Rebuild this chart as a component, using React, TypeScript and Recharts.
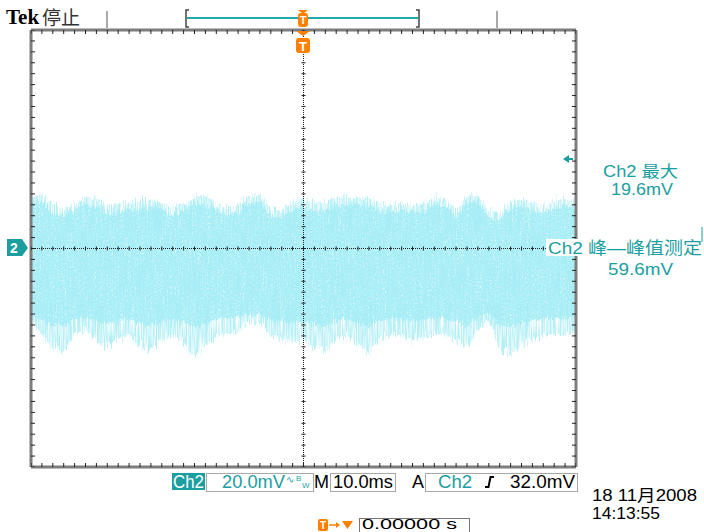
import React from 'react';
import { ComposedChart, Area, Scatter, XAxis, YAxis, CartesianGrid, ReferenceLine } from 'recharts';

// time base: 10 ms/div, 10 divisions, sampled every 2 ms (0.2 div)
const TIME_MS = [
  -50, -48, -46, -44, -42, -40, -38, -36, -34, -32, -30, -28, -26, -24, -22, -20, -18, -16, -14, -12,
  -10, -8, -6, -4, -2, 0, 2, 4, 6, 8, 10, 12, 14, 16, 18, 20, 22, 24, 26, 28, 30, 32, 34, 36, 38, 40,
  42, 44, 46, 48, 50,
];

// Ch2 envelope, mV (20 mV/div)
const UPPER_PEAK_MV = [
  19.5, 19.6, 16.1, 14.3, 16.5, 18.7, 18.4, 15.0, 16.1, 16.9, 17.2, 17.6, 16.5, 15.0, 16.1, 19.1, 19.1,
  16.5, 15.0, 15.8, 19.5, 19.6, 14.3, 13.6, 16.9, 18.0, 16.5, 16.9, 18.7, 18.7, 18.7, 18.4, 16.5, 16.1,
  16.1, 16.1, 16.5, 18.7, 18.0, 13.9, 19.5, 19.6, 14.3, 12.8, 17.2, 18.0, 16.5, 15.4, 17.2, 18.0, 17.2,
];
const UPPER_CORE_MV = [
  16.8, 17.0, 13.5, 11.8, 13.9, 16.0, 15.6, 12.4, 13.2, 14.1, 14.6, 15.0, 13.8, 12.3, 13.5, 16.4, 16.2,
  13.9, 12.5, 13.1, 16.7, 17.0, 11.6, 11.0, 14.2, 15.3, 13.9, 14.3, 16.1, 15.9, 16.0, 15.7, 13.8, 13.4,
  13.6, 13.3, 13.9, 16.0, 15.2, 11.2, 16.8, 17.1, 11.7, 10.3, 14.5, 15.4, 13.8, 12.7, 14.6, 15.3, 14.5,
];
const LOWER_CORE_MV = [
  -24.0, -26.5, -28.0, -28.4, -25.8, -25.2, -26.8, -27.6, -26.3, -25.9, -27.2, -28.1, -26.6, -25.7,
  -26.9, -28.9, -27.5, -25.8, -25.4, -25.0, -23.8, -24.2, -25.9, -26.7, -27.3, -26.6, -27.9, -28.5,
  -26.4, -25.9, -27.2, -28.6, -26.3, -25.7, -25.9, -26.6, -26.2, -25.4, -25.8, -26.7, -27.9, -24.9,
  -23.4, -27.8, -28.8, -27.3, -26.3, -25.9, -25.5, -25.8, -25.1,
];
const LOWER_PEAK_MV = [
  -26.1, -31.6, -36.3, -37.8, -30.8, -29.7, -33.4, -35.6, -32.7, -31.9, -35.2, -37.1, -33.4, -31.9,
  -34.1, -40.0, -35.6, -31.9, -31.2, -30.5, -26.8, -27.5, -31.9, -33.4, -34.9, -33.4, -36.3, -37.8,
  -32.7, -31.9, -35.2, -38.9, -32.7, -31.6, -31.9, -33.4, -32.7, -31.2, -31.9, -33.4, -36.3, -29.7,
  -26.1, -36.3, -38.9, -35.2, -32.7, -31.9, -31.2, -31.9, -30.5,
];

const TIME_MAJOR = [-50, -40, -30, -20, -10, 0, 10, 20, 30, 40, 50];
const VOLT_MAJOR = [-80, -60, -40, -20, 0, 20, 40, 60, 80];
const VOLT_MINOR = [
  -80, -76, -72, -68, -64, -60, -56, -52, -48, -44, -40, -36, -32, -28, -24, -20, -16, -12, -8, -4, 0,
  4, 8, 12, 16, 20, 24, 28, 32, 36, 40, 44, 48, 52, 56, 60, 64, 68, 72, 76, 80,
];

const TEAL = '#1b9ea0';
const ORANGE = '#ff8000';
const FRAME = '#7d7d7d';
const FONT = "'Liberation Sans', 'Noto Sans CJK SC', Arial, sans-serif";

const rows = TIME_MS.map((t, i) => ({
  t,
  peak: [LOWER_PEAK_MV[i], UPPER_PEAK_MV[i]],
  core: [LOWER_CORE_MV[i], UPPER_CORE_MV[i]],
}));
const centerH = TIME_MS.map((t) => ({ t, v: 0 }));
const centerV = VOLT_MINOR.map((v) => ({ t: 0, v }));
const edgeTop = TIME_MS.map((t) => ({ t, v: 80 }));
const edgeBottom = TIME_MS.map((t) => ({ t, v: -80 }));
const edgeLeft = VOLT_MINOR.map((v) => ({ t: -50, v }));
const edgeRight = VOLT_MINOR.map((v) => ({ t: 50, v }));

const HTick = (p: any) => <line x1={p.cx} x2={p.cx} y1={p.cy - 2} y2={p.cy + 2} stroke="#222" />;
const VTick = (p: any) => <line x1={p.cx - 2} x2={p.cx + 2} y1={p.cy} y2={p.cy} stroke="#222" />;
const TopTick = (p: any) => <line x1={p.cx} x2={p.cx} y1={p.cy} y2={p.cy + 4} stroke="#222" />;
const BottomTick = (p: any) => <line x1={p.cx} x2={p.cx} y1={p.cy - 4} y2={p.cy} stroke="#222" />;
const LeftTick = (p: any) => <line x1={p.cx} x2={p.cx + 4} y1={p.cy} y2={p.cy} stroke="#222" />;
const RightTick = (p: any) => <line x1={p.cx - 4} x2={p.cx} y1={p.cy} y2={p.cy} stroke="#222" />;

function Overlay() {
  return (
    <svg width={704} height={532} style={{ position: 'absolute', left: 0, top: 0, pointerEvents: 'none' }}>
      {/* header */}
      <text x={6} y={24} fontFamily="'Liberation Serif', serif" fontWeight="bold" fontSize={21} fill="#000">Tek</text>
      <text x={42} y={25} fontFamily="'Noto Sans CJK SC'" fontSize={19} fill="#333">停止</text>
      <line x1={107} x2={107} y1={11} y2={28} stroke="#555" />
      <line x1={497} x2={497} y1={11} y2={28} stroke="#555" />
      <path d="M189 10 H186 V27 H189" stroke="#444" strokeWidth={1.5} fill="none" />
      <path d="M416 10 H419 V27 H416" stroke="#444" strokeWidth={1.5} fill="none" />
      <line x1={187} x2={418} y1={18} y2={18} stroke="#22a8a8" strokeWidth={2} />
      <polygon points="298,10 308,10 303,14" fill={ORANGE} />
      <rect x={298} y={13} width={10} height={14} rx={3} fill={ORANGE} />
      <text x={303} y={24} textAnchor="middle" fontFamily={FONT} fontWeight="bold" fontSize={11} fill="#fff">T</text>
      <polygon points="296,31 310,31 303,36" fill={ORANGE} />
      <rect x={296} y={38} width={14} height={15} rx={3} fill={ORANGE} />
      <text x={303} y={51} textAnchor="middle" fontFamily={FONT} fontWeight="bold" fontSize={13} fill="#fff">T</text>

      {/* channel marker */}
      <polygon points="7,239 22,239 28,248 22,256 7,256" fill={TEAL} />
      <text x={14} y={253} textAnchor="middle" fontFamily={FONT} fontWeight="bold" fontSize={14} fill="#fff">2</text>

      {/* measurements */}
      <polygon points="563,159 569,155 569,163" fill={TEAL} />
      <line x1={568} x2={573} y1={159} y2={159} stroke={TEAL} strokeWidth={2} />
      <text x={603} y={177} textLength={75} lengthAdjust="spacingAndGlyphs" fontFamily={FONT} fontSize={16} fill={TEAL}>Ch2 最大</text>
      <text x={611} y={195} textLength={62} lengthAdjust="spacingAndGlyphs" fontFamily={FONT} fontSize={17} fill={TEAL}>19.6mV</text>
      <rect x={546} y={239} width={158} height={17} fill="#fff" />
      <line x1={702} x2={702} y1={227} y2={242} stroke={TEAL} />
      <text x={548} y={254} textLength={154} lengthAdjust="spacingAndGlyphs" fontFamily={FONT} fontSize={17} fill={TEAL}>Ch2 峰—峰值测定</text>
      <text x={608} y={275} textLength={65} lengthAdjust="spacingAndGlyphs" fontFamily={FONT} fontSize={17} fill={TEAL}>59.6mV</text>

      {/* status bar */}
      <rect x={172} y={473} width={33} height={17} fill={TEAL} />
      <text x={173} y={488} textLength={31} lengthAdjust="spacingAndGlyphs" fontFamily={FONT} fontSize={18} fill="#fff">Ch2</text>
      <rect x={206.5} y={473.5} width={107} height={18} fill="#fff" stroke="#a8a8a8" />
      <text x={222} y={488} textLength={63} lengthAdjust="spacingAndGlyphs" fontFamily={FONT} fontSize={18} fill={TEAL}>20.0mV</text>
      <text x={286} y={483} fontFamily={FONT} fontSize={10} fill={TEAL}>∿</text>
      <text x={296} y={481} fontFamily={FONT} fontSize={8} fill={TEAL}>B</text>
      <text x={302} y={488} fontFamily={FONT} fontSize={8} fill={TEAL}>W</text>
      <text x={314} y={488} fontFamily={FONT} fontSize={18} fill="#000">M</text>
      <rect x={330.5} y={473.5} width={65} height={18} fill="#fff" stroke="#a8a8a8" />
      <text x={333} y={488} textLength={60} lengthAdjust="spacingAndGlyphs" fontFamily={FONT} fontSize={18} fill="#000">10.0ms</text>
      <text x={412} y={488} fontFamily={FONT} fontSize={18} fill="#000">A</text>
      <rect x={425.5} y={473.5} width={152} height={18} fill="#fff" stroke="#a8a8a8" />
      <text x={438} y={488} textLength={34} lengthAdjust="spacingAndGlyphs" fontFamily={FONT} fontSize={18} fill={TEAL}>Ch2</text>
      <path d="M485 487 H488.5 L490.5 477 H494" stroke="#000" strokeWidth={2} fill="none" />
      <text x={510} y={488} textLength={65} lengthAdjust="spacingAndGlyphs" fontFamily={FONT} fontSize={18} fill="#000">32.0mV</text>

      {/* trigger position + clock */}
      <rect x={318} y={519} width={10} height={12} rx={2} fill={ORANGE} />
      <text x={323} y={529} textAnchor="middle" fontFamily={FONT} fontWeight="bold" fontSize={10} fill="#fff">T</text>
      <line x1={329} x2={338} y1={525} y2={525} stroke={ORANGE} strokeWidth={1.5} />
      <polygon points="336,522 340,525 336,528" fill={ORANGE} />
      <polygon points="342,521 353,521 347.5,529" fill={ORANGE} />
      <rect x={359.5} y={518.5} width={110} height={16} fill="#fff" stroke="#777" />
      <text x={362} y={529} textLength={95} lengthAdjust="spacingAndGlyphs" fontFamily={FONT} fontSize={15} fill="#000">0.00000 s</text>
      <text x={592} y={501} textLength={105} lengthAdjust="spacingAndGlyphs" fontFamily={FONT} fontSize={16} fill="#000">18 11月2008</text>
      <text x={592} y={519} textLength={68} lengthAdjust="spacingAndGlyphs" fontFamily={FONT} fontSize={17} fill="#000">14:13:55</text>
    </svg>
  );
}

export default function App() {
  return (
    <div style={{ position: 'absolute', left: 0, top: 0, width: 704, height: 532, background: '#fff' }}>
      <ComposedChart width={704} height={532} data={rows} margin={{ top: 30, right: 128, bottom: 65, left: 31 }}>
        <defs>
          {/* vertical-only jitter + streaky alpha, so the trace looks like sampled noise */}
          <filter id="fuzz" x="0%" y="-30%" width="100%" height="160%">
            <feTurbulence type="fractalNoise" baseFrequency="0.9 0.03" numOctaves={2} seed={3} result="n" />
            <feColorMatrix in="n" type="matrix" values="0 0 0 0 0.5  0 1 0 0 0  0 0 1 0 0  0 0 0 0 1" result="ny" />
            <feDisplacementMap in="SourceGraphic" in2="ny" scale={20} xChannelSelector="R" yChannelSelector="G" result="d" />
            <feTurbulence type="fractalNoise" baseFrequency="0.8 0.03" numOctaves={2} seed={5} result="s" />
            <feColorMatrix in="s" type="matrix" values="0 0 0 0 0  0 0 0 0 0  0 0 0 0 0  2.4 0 0 0 -0.55" result="sa" />
            <feComposite in="d" in2="sa" operator="in" />
          </filter>
          <filter id="speckle" x="0%" y="-30%" width="100%" height="160%">
            <feTurbulence type="fractalNoise" baseFrequency="0.9 0.05" numOctaves={2} seed={7} result="n" />
            <feColorMatrix in="n" type="matrix" values="0 0 0 0 0.5  0 1 0 0 0  0 0 1 0 0  0 0 0 0 1" result="ny" />
            <feDisplacementMap in="SourceGraphic" in2="ny" scale={12} xChannelSelector="R" yChannelSelector="G" result="d" />
            <feTurbulence type="fractalNoise" baseFrequency="0.6" numOctaves={1} seed={11} result="s" />
            <feColorMatrix in="s" type="matrix" values="0 0 0 0 0  0 0 0 0 0  0 0 0 0 0  2.2 0 0 0 -0.25" result="sa" />
            <feComposite in="d" in2="sa" operator="in" />
          </filter>
        </defs>
        <XAxis xAxisId="t" dataKey="t" type="number" domain={[-50, 50]} ticks={TIME_MAJOR} interval={0}
          height={0} tick={false} tickLine={false} axisLine={false} allowDataOverflow />
        <YAxis yAxisId="v" dataKey="v" type="number" domain={[-80, 80]} ticks={VOLT_MAJOR} interval={0}
          width={0} tick={false} tickLine={false} axisLine={false} allowDataOverflow />

        <Area xAxisId="t" yAxisId="v" type="linear" dataKey="peak" stroke="none" fill="#b2eff6" fillOpacity={1}
          style={{ filter: 'url(#fuzz)' }} isAnimationActive={false} />
        <Area xAxisId="t" yAxisId="v" type="linear" dataKey="core" stroke="none" fill="#a6edf5" fillOpacity={1}
          style={{ filter: 'url(#speckle)' }} isAnimationActive={false} />

        <CartesianGrid xAxisId="t" yAxisId="v" stroke="#222" strokeDasharray="1 9.9" />
        <ReferenceLine xAxisId="t" yAxisId="v" x={0} stroke="#222" strokeDasharray="1 1" />
        <ReferenceLine xAxisId="t" yAxisId="v" y={0} stroke="#222" strokeDasharray="1 1" />
        <Scatter xAxisId="t" yAxisId="v" data={centerH} shape={HTick} isAnimationActive={false} />
        <Scatter xAxisId="t" yAxisId="v" data={centerV} shape={VTick} isAnimationActive={false} />

        {/* graticule frame */}
        <ReferenceLine xAxisId="t" yAxisId="v" y={80} stroke={FRAME} strokeWidth={3} />
        <ReferenceLine xAxisId="t" yAxisId="v" y={-80} stroke={FRAME} strokeWidth={3} />
        <ReferenceLine xAxisId="t" yAxisId="v" x={-50} stroke={FRAME} strokeWidth={3} />
        <ReferenceLine xAxisId="t" yAxisId="v" x={50} stroke={FRAME} strokeWidth={3} />
        <Scatter xAxisId="t" yAxisId="v" data={edgeTop} shape={TopTick} isAnimationActive={false} />
        <Scatter xAxisId="t" yAxisId="v" data={edgeBottom} shape={BottomTick} isAnimationActive={false} />
        <Scatter xAxisId="t" yAxisId="v" data={edgeLeft} shape={LeftTick} isAnimationActive={false} />
        <Scatter xAxisId="t" yAxisId="v" data={edgeRight} shape={RightTick} isAnimationActive={false} />
      </ComposedChart>
      <Overlay />
    </div>
  );
}
